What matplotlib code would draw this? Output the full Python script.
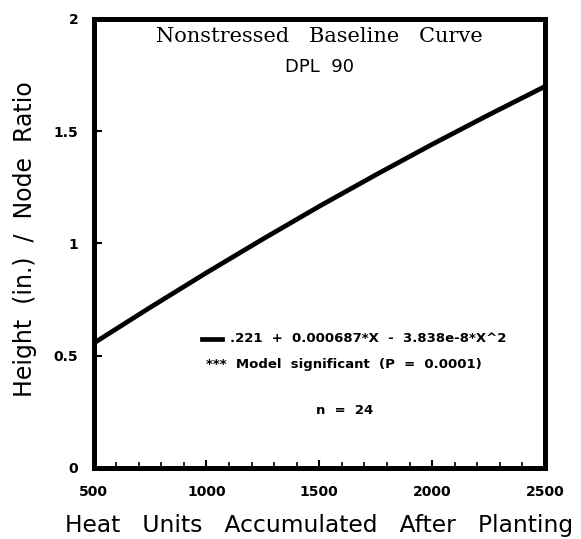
import matplotlib
matplotlib.use("Agg")
import matplotlib.pyplot as plt
from matplotlib.ticker import MultipleLocator

# values
heatUnits = [500, 750, 1000, 1250, 1500, 1750, 2000, 2250, 2500]
ratio = [0.555, 0.714, 0.869, 1.019, 1.165, 1.305, 1.441, 1.572, 1.699]

xTicks = [500, 1000, 1500, 2000, 2500]
yTicks = [0, 0.5, 1, 1.5, 2]
yTickLabels = ['0', '0.5', '1', '1.5', '2']

fig = plt.figure(figsize=(5.81, 5.39), dpi=100)
# axes box: left 93, right 545, top 19, bottom 468 (pixels)
ax = fig.add_axes([0.161, 0.132, 0.777, 0.833])

ax.plot(heatUnits, ratio, color='black', lw=3.4, solid_capstyle='butt')

ax.set_xlim(500, 2500)
ax.set_ylim(0, 2)
ax.set_xticks(xTicks)
ax.set_xticklabels([str(t) for t in xTicks])
ax.set_yticks(yTicks)
ax.set_yticklabels(yTickLabels)
ax.xaxis.set_minor_locator(MultipleLocator(100))
ax.tick_params(direction='in', length=6, width=1.5, labelsize=10)
ax.tick_params(which='minor', direction='in', length=4, width=1.2)
ax.tick_params(axis='x', pad=12)
ax.tick_params(axis='y', pad=11)
for lab in ax.get_xticklabels() + ax.get_yticklabels():
    lab.set_fontweight('bold')
for s in ax.spines.values():
    s.set_linewidth(3.6)

ax.set_xlabel('Heat   Units   Accumulated   After   Planting', fontsize=16.8)
ax.set_ylabel('Height  (in.)  /  Node  Ratio', fontsize=17)
ax.xaxis.set_label_coords(0.5, -0.102)
ax.yaxis.set_label_coords(-0.125, 0.51)

ax.text(0.5, 0.948, 'Nonstressed   Baseline   Curve', transform=ax.transAxes,
        ha='center', va='baseline', fontsize=15, family='DejaVu Serif')
ax.text(0.5, 0.881, 'DPL  90', transform=ax.transAxes,
        ha='center', va='baseline', fontsize=13)

# legend-ish annotation
ax.plot([0.240, 0.285], [0.288, 0.288], transform=ax.transAxes, color='black', lw=3.4)
ax.text(0.302, 0.288, '.221  +  0.000687*X  -  3.838e-8*X^2', transform=ax.transAxes,
        ha='left', va='center', fontsize=9.5, fontweight='bold')
ax.text(0.249, 0.230, '***  Model  significant  (P  =  0.0001)', transform=ax.transAxes,
        ha='left', va='center', fontsize=9.5, fontweight='bold')
ax.text(0.493, 0.127, 'n  =  24', transform=ax.transAxes,
        ha='left', va='center', fontsize=9.5, fontweight='bold')

plt.savefig('out.png', dpi=100)
